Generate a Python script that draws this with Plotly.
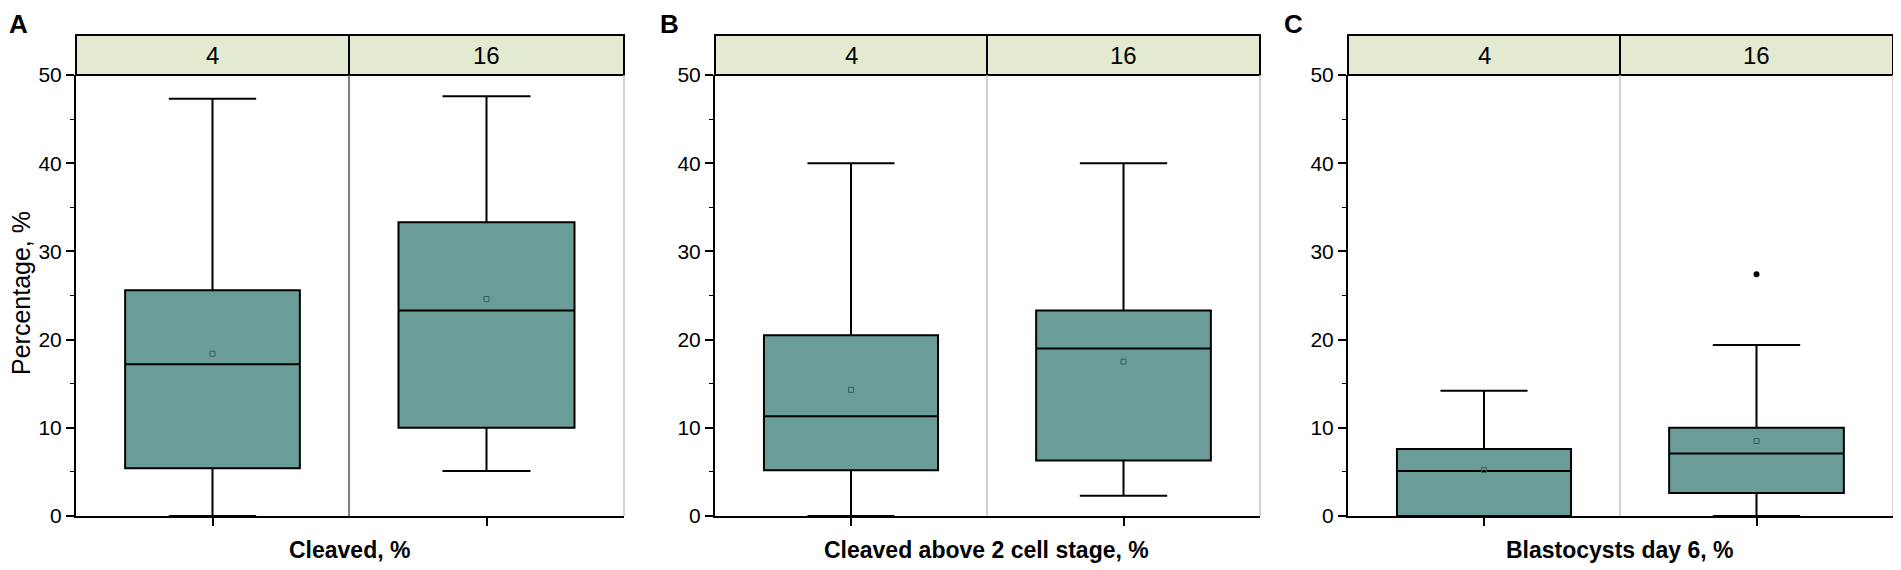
import plotly.graph_objects as go

# box statistics, one list per panel: [group "4", group "16"]
groups = ["4", "16"]
panel_letters = ["A", "B", "C"]
panel_titles = ["Cleaved, %", "Cleaved above 2 cell stage, %", "Blastocysts day 6, %"]

lower = [[0.0, 5.1], [0.0, 2.3], [0.0, 0.0]]
q1 = [[5.4, 10.0], [5.2, 6.3], [0.0, 2.6]]
median = [[17.2, 23.3], [11.3, 19.0], [5.1, 7.1]]
q3 = [[25.6, 33.3], [20.5, 23.3], [7.6, 10.0]]
upper = [[47.3, 47.6], [40.0, 40.0], [14.2, 19.4]]
mean = [[18.4, 24.6], [14.3, 17.5], [5.2, 8.5]]
outliers = [[[], []], [[], []], [[], [27.4]]]

y_ticks = [0, 10, 20, 30, 40, 50]

W, H = 1901, 570
OFF = 8  # the page body margin shifts the figure by this much
BOX_FILL = "#6b9d98"
STRIP_FILL = "#e3ead0"

# pixel layout of the three panels (left, divider, right) as seen on the page
panels_px = [(76, 349, 624), (715, 987, 1260), (1348, 1620, 1893)]
divider_col = ["#555555", "#c4c4c4", "#c4c4c4"]
plot_top, plot_bot, strip_top = 75, 516, 35


def px(x):
    return (x - OFF) / W


def py(y):
    return 1 - (y - OFF) / H


def label(x, y, text, size, **kw):
    return dict(x=px(x), y=py(y), xref="paper", yref="paper", text=text,
                showarrow=False, xanchor="center", yanchor="middle",
                font=dict(size=size, color="black"), **kw)


fig = go.Figure()
layout = {}
shapes = []
annotations = []

for p in range(3):
    left, mid, right = panels_px[p]
    yname = "y" if p == 0 else f"y{p + 1}"
    ykey = "yaxis" if p == 0 else f"yaxis{p + 1}"
    first_x = 2 * p + 1
    layout[ykey] = dict(
        domain=[py(plot_bot), py(plot_top)],
        range=[0, 50],
        anchor="x" if first_x == 1 else f"x{first_x}",
        tickvals=y_ticks,
        ticks="outside",
        ticklen=8,
        tickwidth=1.5,
        tickcolor="black",
        minor=dict(dtick=5, ticks="outside", ticklen=4, tickwidth=1.2, tickcolor="black", showgrid=False),
        showline=True,
        linecolor="black",
        linewidth=2,
        showgrid=False,
        zeroline=False,
        automargin=False,
        fixedrange=True,
        tickfont=dict(size=21, color="black"),
    )
    for g in range(2):
        xi = 2 * p + g + 1
        xname = "x" if xi == 1 else f"x{xi}"
        xkey = "xaxis" if xi == 1 else f"xaxis{xi}"
        x0, x1 = (left, mid) if g == 0 else (mid, right)
        layout[xkey] = dict(
            domain=[px(x0), px(x1)],
            range=[0, 1],
            anchor=yname,
            tickvals=[0.5],
            showticklabels=False,
            ticks="outside",
            ticklen=8,
            tickwidth=1.5,
            tickcolor="black",
            showline=True,
            linecolor="black",
            linewidth=2,
            showgrid=False,
            zeroline=False,
            automargin=False,
            fixedrange=True,
        )
        fig.add_trace(go.Box(
            x=[0.5], q1=[q1[p][g]], median=[median[p][g]], q3=[q3[p][g]],
            lowerfence=[lower[p][g]], upperfence=[upper[p][g]],
            width=0.64, whiskerwidth=0.5,
            fillcolor=BOX_FILL, line=dict(color="black", width=2),
            boxpoints=False, showlegend=False, hoverinfo="skip",
            xaxis=xname, yaxis=yname,
        ))
        fig.add_trace(go.Scatter(
            x=[0.5], y=[mean[p][g]], mode="markers",
            marker=dict(symbol="square-open", size=5, color="#35605b", line=dict(width=1)),
            showlegend=False, hoverinfo="skip", xaxis=xname, yaxis=yname,
        ))
        if outliers[p][g]:
            fig.add_trace(go.Scatter(
                x=[0.5] * len(outliers[p][g]), y=outliers[p][g], mode="markers",
                marker=dict(symbol="circle", size=6, color="black"),
                showlegend=False, hoverinfo="skip", xaxis=xname, yaxis=yname,
            ))
        # strip label
        annotations.append(label((x0 + x1) / 2, (strip_top + plot_top) / 2, groups[g], 24))

    # strip header box
    shapes.append(dict(type="rect", xref="paper", yref="paper",
                       x0=px(left), x1=px(right), y0=py(plot_top), y1=py(strip_top),
                       fillcolor=STRIP_FILL, line=dict(color="black", width=2), layer="below"))
    shapes.append(dict(type="line", xref="paper", yref="paper",
                       x0=px(mid), x1=px(mid), y0=py(plot_top), y1=py(strip_top),
                       line=dict(color="black", width=2)))
    # facet divider and right frame edge inside the plot area
    shapes.append(dict(type="line", xref="paper", yref="paper",
                       x0=px(mid), x1=px(mid), y0=py(plot_bot), y1=py(plot_top),
                       line=dict(color=divider_col[p], width=1.5), layer="below"))
    shapes.append(dict(type="line", xref="paper", yref="paper",
                       x0=px(right), x1=px(right), y0=py(plot_bot), y1=py(plot_top),
                       line=dict(color="#c4c4c4", width=1.5), layer="below"))

    annotations.append(label(mid, 550, f"<b>{panel_titles[p]}</b>", 23))

letter_pos = [18, 669, 1293]
for p in range(3):
    annotations.append(label(letter_pos[p], 24, f"<b>{panel_letters[p]}</b>", 26))

annotations.append(label(21, 293, "Percentage, %", 25, textangle=-90))

fig.update_layout(
    width=W,
    height=H,
    margin=dict(l=0, r=0, t=0, b=0, autoexpand=False),
    paper_bgcolor="white",
    plot_bgcolor="white",
    font=dict(family="Arial, Liberation Sans, sans-serif", color="black"),
    shapes=shapes,
    annotations=annotations,
    showlegend=False,
    **layout,
)

fig.write_html("out.html")
